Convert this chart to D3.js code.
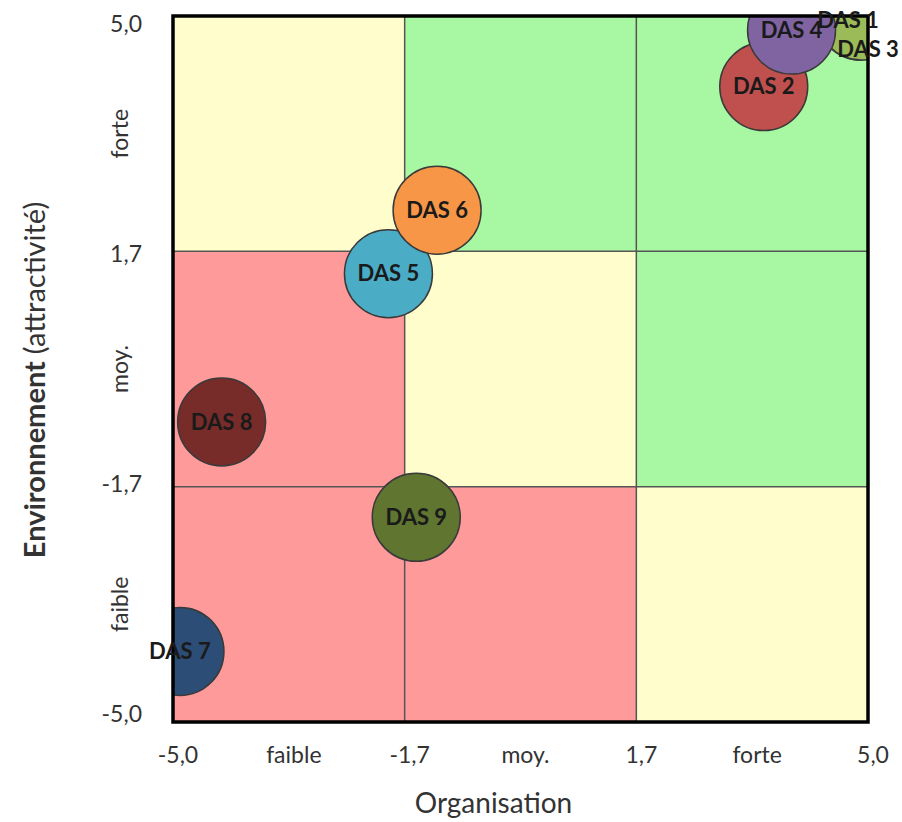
<!DOCTYPE html>
<html>
<head>
<meta charset="utf-8">
<script src="https://cdn.jsdelivr.net/npm/d3@7"></script>
<style>
  body { margin: 0; background: #fff; }
  text { font-family: Lato, "Open Sans", sans-serif; }
</style>
</head>
<body>
<svg></svg>
<script>
// matrice organisation / environnement

let svgWidth = 902;
let svgHeight = 822;

// les DAS et leur position (organisation, environnement)
let das = ["DAS 1", "DAS 2", "DAS 3", "DAS 4", "DAS 5", "DAS 6", "DAS 7", "DAS 8", "DAS 9"];
let organisation = [4.9, 3.5, 4.9, 3.9, -1.9, -1.2, -4.9, -4.3, -1.5];
let environnement = [5.0, 4.0, 5.0, 4.8, 1.35, 2.25, -4.0, -0.75, -2.1];
let couleurs = ["#4F81BD", "#C0504D", "#9BBB59", "#8064A2", "#4BACC6", "#F79646", "#2C4D75", "#772C2A", "#5F7530"];

// graduations
let ticks = [-5, -5 / 3, 5 / 3, 5];
let tickLabels = ["-5,0", "-1,7", "1,7", "5,0"];
let niveaux = ["faible", "moy.", "forte"];

// couleur des 9 cases (ligne = environnement de bas en haut, colonne = organisation)
let cases = [
  ["rouge", "rouge", "jaune"],
  ["rouge", "jaune", "vert"],
  ["jaune", "vert", "vert"]
];
let fond = { rouge: "#FF9A9A", jaune: "#FFFDCC", vert: "#A8F7A2" };

let margin = { left: 173, right: 34, top: 16, bottom: 100 };

let svg = d3.select("svg")
  .attr("width", svgWidth)
  .attr("height", svgHeight);

let x = d3.scaleLinear().domain([-5, 5]).range([margin.left, svgWidth - margin.right]);
let y = d3.scaleLinear().domain([-5, 5]).range([svgHeight - margin.bottom, margin.top]);

// cases de couleur
cases.forEach(function (ligne, i) {
  ligne.forEach(function (c, j) {
    svg.append("rect")
      .attr("x", x(ticks[j]))
      .attr("y", y(ticks[i + 1]))
      .attr("width", x(ticks[j + 1]) - x(ticks[j]))
      .attr("height", y(ticks[i]) - y(ticks[i + 1]))
      .attr("fill", fond[c]);
  });
});

// lignes de séparation
[ticks[1], ticks[2]].forEach(function (t) {
  svg.append("line")
    .attr("x1", x(t)).attr("x2", x(t))
    .attr("y1", y(-5)).attr("y2", y(5))
    .attr("stroke", "#555").attr("stroke-width", 1.5);
  svg.append("line")
    .attr("x1", x(-5)).attr("x2", x(5))
    .attr("y1", y(t)).attr("y2", y(t))
    .attr("stroke", "#555").attr("stroke-width", 1.5);
});

// les bulles, coupées au cadre
svg.append("clipPath").attr("id", "cadre")
  .append("rect")
  .attr("x", x(-5)).attr("y", y(5))
  .attr("width", x(5) - x(-5)).attr("height", y(-5) - y(5));

let bulles = svg.append("g").attr("clip-path", "url(#cadre)");
bulles.selectAll("circle")
  .data(das)
  .enter()
  .append("circle")
  .attr("cx", function (d, i) { return x(organisation[i]); })
  .attr("cy", function (d, i) { return y(environnement[i]); })
  .attr("r", 44)
  .attr("fill", function (d, i) { return couleurs[i]; })
  .attr("stroke", "#3a3a3a")
  .attr("stroke-width", 1.5);

// cadre
svg.append("rect")
  .attr("x", x(-5)).attr("y", y(5))
  .attr("width", x(5) - x(-5)).attr("height", y(-5) - y(5))
  .attr("fill", "none")
  .attr("stroke", "#000")
  .attr("stroke-width", 3.5);

// étiquettes des bulles (DAS 1 et DAS 3 déplacées à la main comme dans l'original)
let decalage = { "DAS 1": [-13, 4], "DAS 3": [7, 33] };
svg.selectAll(".etiquette")
  .data(das)
  .enter()
  .append("text")
  .attr("class", "etiquette")
  .attr("x", function (d, i) { return x(organisation[i]) + (decalage[d] ? decalage[d][0] : 0); })
  .attr("y", function (d, i) { return y(environnement[i]) + (decalage[d] ? decalage[d][1] : 0); })
  .attr("dy", "0.35em")
  .attr("text-anchor", "middle")
  .attr("font-size", 22)
  .attr("font-weight", "bold")
  .attr("fill", "#1a1a1a")
  .text(function (d) { return d; });

// graduations axe x
svg.selectAll(".tickx")
  .data(ticks)
  .enter()
  .append("text")
  .attr("x", function (d) { return x(d) + 5; })
  .attr("y", 755)
  .attr("dy", "0.35em")
  .attr("text-anchor", "middle")
  .attr("font-size", 23)
  .attr("fill", "#333")
  .text(function (d, i) { return tickLabels[i]; });

svg.selectAll(".niveaux")
  .data(niveaux)
  .enter()
  .append("text")
  .attr("x", function (d, i) { return x((ticks[i] + ticks[i + 1]) / 2) + 5; })
  .attr("y", 755)
  .attr("dy", "0.35em")
  .attr("text-anchor", "middle")
  .attr("font-size", 23)
  .attr("fill", "#333")
  .text(function (d) { return d; });

// graduations axe y
svg.selectAll(".ticky")
  .data(ticks)
  .enter()
  .append("text")
  .attr("x", 142)
  .attr("y", function (d) { return y(d) + d * 1.6; })
  .attr("dy", "0.35em")
  .attr("text-anchor", "end")
  .attr("font-size", 23)
  .attr("fill", "#333")
  .text(function (d, i) { return tickLabels[i]; });

svg.selectAll(".niveauy")
  .data(niveaux)
  .enter()
  .append("text")
  .attr("transform", function (d, i) {
    return "translate(" + 120 + "," + y((ticks[i] + ticks[i + 1]) / 2) + ") rotate(-90)";
  })
  .attr("dy", "0.35em")
  .attr("text-anchor", "middle")
  .attr("font-size", 23)
  .attr("fill", "#333")
  .text(function (d) { return d; });

// titres des axes
svg.append("text")
  .attr("x", (x(-5) + x(5)) / 2 - 27)
  .attr("y", 803)
  .attr("dy", "0.35em")
  .attr("text-anchor", "middle")
  .attr("font-size", 28)
  .attr("fill", "#333")
  .text("Organisation");

let titreY = svg.append("text")
  .attr("transform", "translate(35,380) rotate(-90)")
  .attr("dy", "0.35em")
  .attr("text-anchor", "middle")
  .attr("font-size", 29)
  .attr("fill", "#333");
titreY.append("tspan").attr("font-weight", "bold").text("Environnement ");
titreY.append("tspan").text("(attractivité)");
</script>
</body>
</html>
